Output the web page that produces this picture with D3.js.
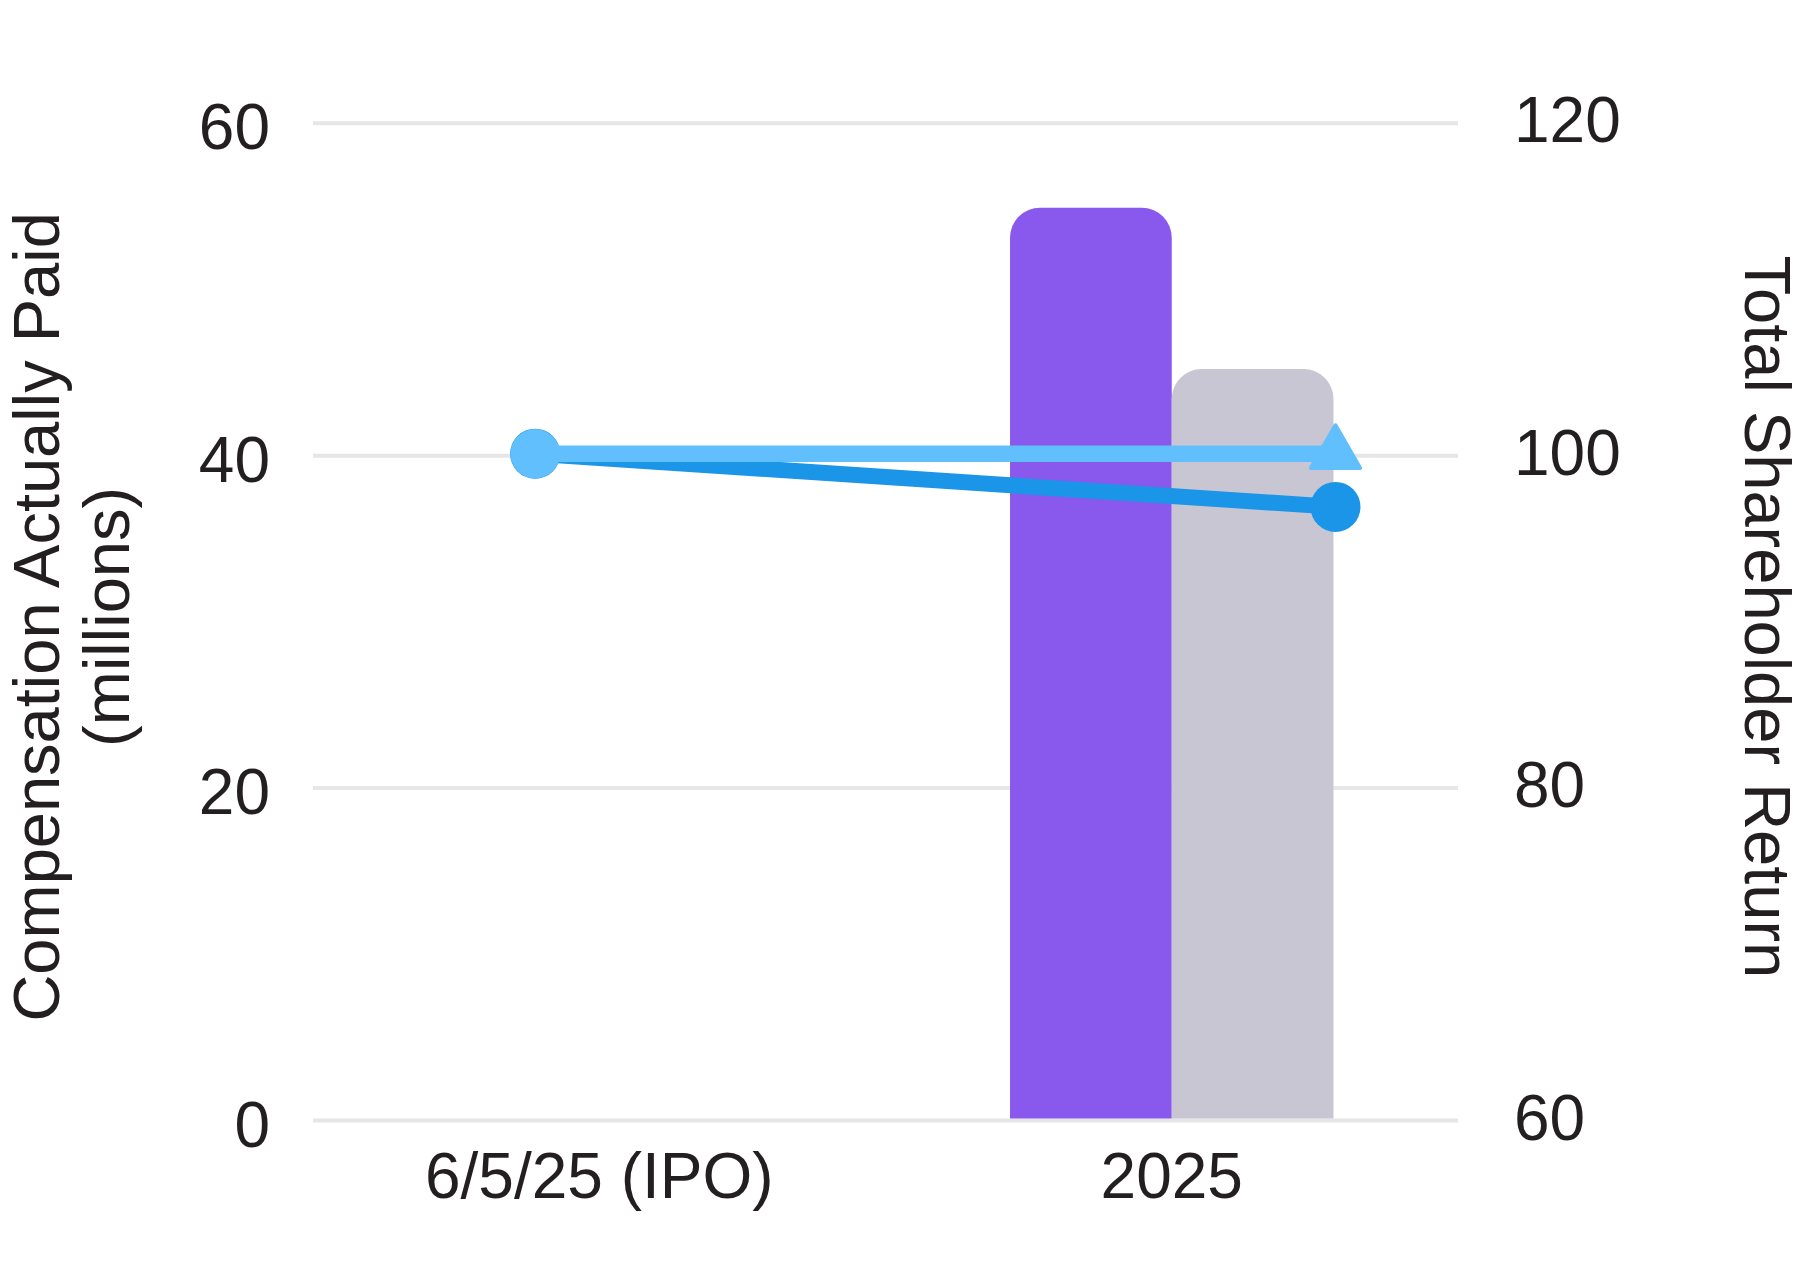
<!DOCTYPE html>
<html>
<head>
<meta charset="utf-8">
<script src="https://cdn.jsdelivr.net/npm/d3@7"></script>
<style>
  body { margin: 0; background: #fff; }
  text { font-family: "Liberation Sans", Arial, sans-serif; fill: #231f20; }
</style>
</head>
<body>
<div id="chart"></div>
<script>
var width = 1818;
var height = 1287;

// data
var categories = ["6/5/25 (IPO)", "2025"];
var capPaid = [null, 54.8];      // purple bars, millions
var summaryComp = [null, 45.1];  // grey bars, millions
var companyTsr = [100, 96.8];    // dark blue line
var peerTsr = [100, 100];        // light blue line
var leftTicks = [0, 20, 40, 60];
var rightTicks = [60, 80, 100, 120];

var plotLeft = 313, plotRight = 1458, plotTop = 121.3, plotBottom = 1118.5;
var lineOffsets = [0.388, 0.786]; // where the line points sit inside each band

var svg = d3.select("#chart").append("svg").attr("width", width).attr("height", height);

var x = d3.scaleBand().domain(categories).range([plotLeft, plotRight]);
var xSub = d3.scaleBand().domain(["cap", "sct"]).range([0, x.bandwidth()]).paddingOuter(0.77);
var y = d3.scaleLinear().domain([0, 60]).range([plotBottom, plotTop]);
var yR = d3.scaleLinear().domain([60, 120]).range([plotBottom, plotTop]);

// grid
svg.append("g").selectAll("line")
	.data(leftTicks)
	.enter().append("line")
		.attr("x1", plotLeft).attr("x2", plotRight)
		.attr("y1", function(d){ return y(d) + 2; })
		.attr("y2", function(d){ return y(d) + 2; })
		.attr("stroke", "#e6e6e6")
		.attr("stroke-width", 4);

function topRounded(x0, y0, w, h, r){
	r = Math.min(r, w / 2, h);
	return "M" + x0 + "," + (y0 + h) +
		"V" + (y0 + r) +
		"A" + r + "," + r + " 0 0 1 " + (x0 + r) + "," + y0 +
		"H" + (x0 + w - r) +
		"A" + r + "," + r + " 0 0 1 " + (x0 + w) + "," + (y0 + r) +
		"V" + (y0 + h) + "Z";
}

var barRows = [];
categories.forEach(function(c, i){
	if (capPaid[i] != null) barRows.push({cat: c, key: "cap", v: capPaid[i], color: "#8959ed"});
	if (summaryComp[i] != null) barRows.push({cat: c, key: "sct", v: summaryComp[i], color: "#c8c6d3"});
});

svg.append("g").selectAll("path")
	.data(barRows)
	.enter().append("path")
		.attr("d", function(d){
			var bx = x(d.cat) + xSub(d.key);
			return topRounded(bx, y(d.v), xSub.bandwidth(), y(0) - y(d.v), 30);
		})
		.attr("fill", function(d){ return d.color; });

// lines
function lx(i){ return x(categories[i]) + x.bandwidth() * lineOffsets[i]; }

var line = d3.line()
	.x(function(d, i){ return lx(i); })
	.y(function(d){ return yR(d); });

svg.append("path").datum(companyTsr)
	.attr("d", line).attr("fill", "none")
	.attr("stroke", "#1a95e8").attr("stroke-width", 16);
svg.append("g").selectAll("circle")
	.data(companyTsr)
	.enter().append("circle")
		.attr("cx", function(d, i){ return lx(i); })
		.attr("cy", function(d){ return yR(d); })
		.attr("r", 25)
		.attr("fill", "#1a95e8");

svg.append("path").datum(peerTsr)
	.attr("d", line).attr("fill", "none")
	.attr("stroke", "#62bffd").attr("stroke-width", 16.5);
svg.append("circle")
	.attr("cx", lx(0)).attr("cy", yR(peerTsr[0]))
	.attr("r", 24.7).attr("fill", "#62bffd");
svg.append("path")
	.attr("d", d3.symbol().type(d3.symbolTriangle).size(1050)())
	.attr("transform", "translate(" + lx(1) + "," + yR(peerTsr[1]) + ")")
	.attr("fill", "#62bffd")
	.attr("stroke", "#62bffd").attr("stroke-width", 4).attr("stroke-linejoin", "round");

// axes
svg.append("g").selectAll("text")
	.data(leftTicks)
	.enter().append("text")
		.attr("x", 270)
		.attr("y", function(d){ return y(d) + 28; })
		.attr("text-anchor", "end")
		.style("font-size", "64px")
		.text(function(d){ return d; });

svg.append("g").selectAll("text")
	.data(rightTicks)
	.enter().append("text")
		.attr("x", 1514)
		.attr("y", function(d){ return yR(d) + 21; })
		.attr("text-anchor", "start")
		.style("font-size", "64px")
		.text(function(d){ return d; });

svg.append("g").selectAll("text")
	.data(categories)
	.enter().append("text")
		.attr("x", function(d){ return x(d) + x.bandwidth() / 2; })
		.attr("y", 1198)
		.attr("text-anchor", "middle")
		.style("font-size", "64px")
		.text(function(d){ return d; });

var midY = (plotTop + plotBottom) / 2 - 3;
var lt = svg.append("text")
	.attr("transform", "translate(59," + midY + ") rotate(-90)")
	.attr("text-anchor", "middle")
	.style("font-size", "65px");
lt.append("tspan").attr("x", 0).attr("y", 0).text("Compensation Actually Paid");
lt.append("tspan").attr("x", 0).attr("y", 70).text("(millions)");

svg.append("text")
	.attr("transform", "translate(1745," + midY + ") rotate(90)")
	.attr("text-anchor", "middle")
	.style("font-size", "65px")
	.text("Total Shareholder Return");
</script>
</body>
</html>
